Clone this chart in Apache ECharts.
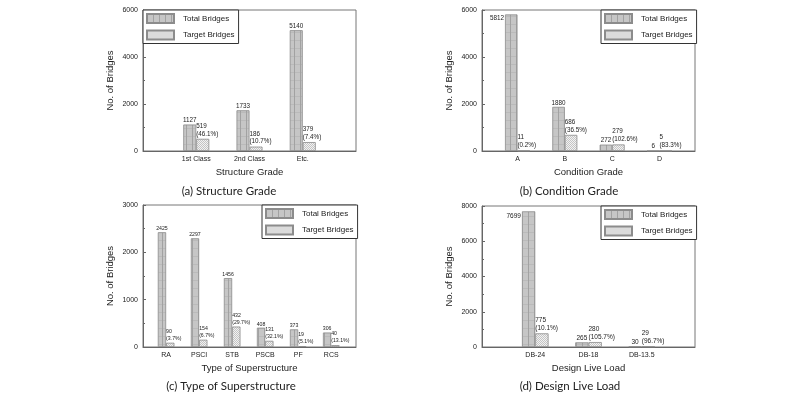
<!DOCTYPE html>
<html><head><meta charset="utf-8">
<script src="https://cdn.jsdelivr.net/npm/echarts@6/dist/echarts.min.js"></script>
<style>html,body{margin:0;padding:0;background:#fff}#c{width:800px;height:397px}</style>
</head><body><div id="c"></div>
<script>
// ---- data ----
const catA = ['1st Class', '2nd Class', 'Etc.'];
const totalA = [1127, 1733, 5140];
const targetA = [519, 186, 379];
const pctA = ['(46.1%)', '(10.7%)', '(7.4%)'];

const catB = ['A', 'B', 'C', 'D'];
const totalB = [5812, 1880, 272, 6];
const targetB = [11, 686, 279, 5];
const pctB = ['(0.2%)', '(36.5%)', '(102.6%)', '(83.3%)'];

const catC = ['RA', 'PSCI', 'STB', 'PSCB', 'PF', 'RCS'];
const totalC = [2425, 2297, 1456, 408, 373, 306];
const targetC = [90, 154, 432, 131, 19, 40];
const pctC = ['(3.7%)', '(6.7%)', '(29.7%)', '(32.1%)', '(5.1%)', '(13.1%)'];

const catD = ['DB-24', 'DB-18', 'DB-13.5'];
const totalD = [7699, 265, 30];
const targetD = [775, 280, 29];
const pctD = ['(10.1%)', '(105.7%)', '(96.7%)'];

const yMaxes = [6000, 6000, 3000, 8000];
const ySteps = [2000, 2000, 1000, 2000];
const xNames = ['Structure Grade', 'Condition Grade', 'Type of Superstructure', 'Design Live Load'];
const captions = ['(a) Structure Grade', '(b) Condition Grade', '(c) Type of Superstructure', '(d) Design Live Load'];
const legendNames = ['Total Bridges', 'Target Bridges'];
const yName = 'No. of Bridges';

// ---- patterns ----
function patTotal() {
  const c = document.createElement('canvas'); c.width = 6; c.height = 8;
  const g = c.getContext('2d');
  g.fillStyle = '#c6c6c6'; g.fillRect(0, 0, 6, 8);
  g.fillStyle = '#a2a2a2'; g.fillRect(0, 0, 1, 8);
  g.fillStyle = '#bababa'; g.fillRect(1, 0, 5, 1);
  return c;
}
function patTarget() {
  const c = document.createElement('canvas'); c.width = 4; c.height = 4;
  const g = c.getContext('2d');
  for (let x = 0; x < 4; x++) for (let y = 0; y < 4; y++) {
    g.fillStyle = ((x + y) % 2 === 0) ? '#c4c4c4' : '#f2f2f2';
    g.fillRect(x, y, 1, 1);
  }
  return c;
}
const PT = { image: patTotal(), repeat: 'repeat' };
const PG = { image: patTarget(), repeat: 'repeat' };
const F = '"Liberation Sans", Arial, sans-serif';

const panels = [
  { cats: catA, total: totalA, target: targetA, pct: pctA, grid: { left: 143, top: 10, width: 213, height: 141 }, xMin: 0, xMax: 4, bw: 13, fs: 6.3, cap: [229, 191], leg: [143, 10], side: -1 },
  { cats: catB, total: totalB, target: targetB, pct: pctB, grid: { left: 482, top: 10, width: 213, height: 141 }, xMin: 0.25, xMax: 4.75, bw: 12.5, fs: 6.3, cap: [569, 191], leg: [601, 10], side: 0 },
  { cats: catC, total: totalC, target: targetC, pct: pctC, grid: { left: 143, top: 205, width: 213, height: 142 }, xMin: 0.3, xMax: 6.75, bw: 8.3, fs: 5.2, cap: [231, 386], leg: [262, 205], side: -1 },
  { cats: catD, total: totalD, target: targetD, pct: pctD, grid: { left: 482, top: 206, width: 213, height: 141 }, xMin: 0, xMax: 4, bw: 13.3, fs: 6.5, cap: [570, 386], leg: [601, 206], side: 0 }
];

const option = { animation: false, grid: [], xAxis: [], yAxis: [], series: [], legend: [], graphic: [] };

panels.forEach((p, i) => {
  option.grid.push(Object.assign({ show: true, borderColor: '#777', borderWidth: 1, containLabel: false }, p.grid));
  option.xAxis.push({
    type: 'value', gridIndex: i, min: p.xMin, max: p.xMax,
    name: xNames[i], nameLocation: 'middle', nameGap: 16,
    nameTextStyle: { fontSize: 9.5, fontFamily: F, color: '#222' },
    axisLine: { show: true, onZero: false, lineStyle: { color: '#666' } },
    axisTick: { show: false }, splitLine: { show: false },
    axisLabel: { customValues: p.cats.map((c, k) => k + 1), formatter: v => p.cats[Math.round(v) - 1] || '', fontSize: 7, margin: 5, fontFamily: F, color: '#222' }
  });
  option.yAxis.push({
    type: 'value', gridIndex: i, min: 0, max: yMaxes[i], interval: ySteps[i],
    name: yName, nameLocation: 'middle', nameGap: 28,
    nameTextStyle: { fontSize: 9.5, fontFamily: F, color: '#222' },
    axisLine: { show: true, lineStyle: { color: '#666' } },
    axisTick: { show: true, inside: true, length: 3, lineStyle: { color: '#666' } },
    minorTick: { show: true, splitNumber: 2, length: 2, lineStyle: { color: '#666' } },
    splitLine: { show: false },
    axisLabel: { fontSize: 7, margin: 5, fontFamily: F, color: '#222', formatter: v => String(v) }
  });
  option.series.push({
    type: 'bar', name: legendNames[0], xAxisIndex: i, yAxisIndex: i, barWidth: p.bw, barGap: '0%',
    itemStyle: { color: PT, borderColor: '#8c8c8c', borderWidth: 0.8 },
    label: { show: true, position: 'top', distance: 1, fontSize: p.fs, fontFamily: F, color: '#222', formatter: q => q.value[1] },
    data: p.total.map((v, k) => {
      const d = { value: [k + 1, v] };
      if (k === p.side) d.label = { position: [-1, 1], align: 'right', verticalAlign: 'top' };
      return d;
    })
  });
  option.series.push({
    type: 'bar', name: legendNames[1], xAxisIndex: i, yAxisIndex: i, barWidth: p.bw, barGap: '0%',
    itemStyle: { color: PG, borderColor: '#8c8c8c', borderWidth: 0.8 },
    label: { show: true, position: 'top', distance: 1, align: 'left', offset: [-p.bw / 2, 0], lineHeight: p.fs + 1.6,
      fontSize: p.fs, fontFamily: F, color: '#222', formatter: q => q.value[1] + '\n' + p.pct[q.dataIndex] },
    data: p.target.map((v, k) => [k + 1, v])
  });
  option.legend.push({
    left: p.leg[0], top: p.leg[1], orient: 'vertical', icon: 'rect', itemWidth: 27, itemHeight: 9, itemGap: 5.5,
    padding: [3, 4, 3, 3], borderColor: '#333', borderWidth: 1, backgroundColor: '#fff', selectedMode: false,
    textStyle: { fontSize: 8, fontFamily: F, color: '#222', padding: [0, 0, 0, 4] },
    data: legendNames
  });
  option.graphic.push({
    type: 'text', x: p.cap[0], y: p.cap[1],
    style: { text: captions[i], fontSize: 11.5, fontFamily: 'Lato, "Open Sans", sans-serif', fill: '#222', align: 'center', verticalAlign: 'middle' }
  });
});

const chart = echarts.init(document.getElementById('c'), null, { renderer: 'canvas' });
chart.setOption(option);
</script>
</body></html>
